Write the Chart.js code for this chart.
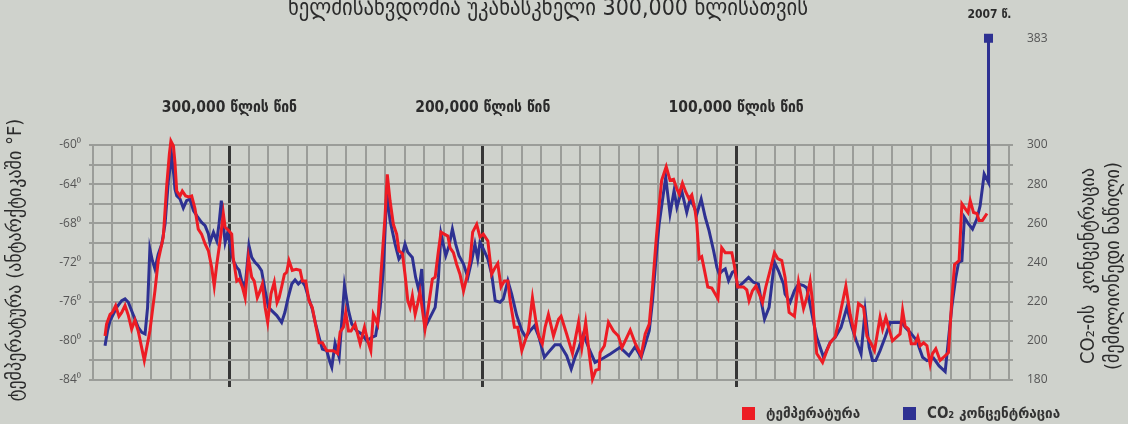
<!DOCTYPE html>
<html>
<head>
<meta charset="utf-8">
<script src="https://cdn.jsdelivr.net/npm/chart.js@4.4.1/dist/chart.umd.min.js"></script>
<style>
  html, body { margin: 0; padding: 0; background: #cfd2cc; }
  #wrap { width: 1128px; height: 424px; }
</style>
</head>
<body>
<div id="wrap"><canvas id="klimati"></canvas></div>
<script>
// ათასი წელი დღევანდლამდე (უარყოფითი = წარსული)
const tempYears = [
  -349.1,-348.5,-347.1,-346.2,-344.9,-343.6,-342.5,-341.2,-339.9,-338.6,
  -337.3,-336.0,-333.6,-331.4,-329.4,-328.1,-326.1,-324.8,-323.7,-323.1,
  -322.1,-321.5,-320.8,-319.5,-318.6,-317.3,-316.0,-314.9,-313.6,-312.3,
  -311.0,-309.6,-308.3,-307.0,-306.0,-305.0,-303.7,-302.4,-301.7,-300.4,
  -299.1,-298.5,-297.1,-296.1,-294.9,-293.8,-292.5,-291.2,-290.2,-289.0,
  -287.9,-287.0,-285.9,-284.9,-283.6,-282.3,-281.2,-280.4,-279.4,-278.3,
  -277.4,-276.5,-275.2,-273.7,-272.1,-271.2,-269.9,-268.6,-267.3,-265.5,
  -264.6,-263.3,-261.6,-260.3,
  -259.0,-257.3,-256.3,-255.0,-254.1,-253.0,-252.0,-250.4,-248.4,-246.7,
  -245.4,-244.2,-243.2,-241.5,-240.2,-238.6,-237.7,-236.6,-235.3,-234.0,
  -233.1,-231.7,-230.7,-229.6,-228.7,-227.8,-226.7,-225.7,-224.8,-222.8,
  -221.5,-219.9,-218.8,-217.5,-216.5,-215.2,-213.8,-212.9,-211.6,-210.3,
  -209.0,-207.6,-206.3,-205.0,-204.0,-202.4,-201.1,-199.8,-198.0,-196.5,
  -195.1,-194.1,-192.8,-191.5,-190.1,-189.2,-187.5,-186.2,-184.6,-183.3,
  -182.0,-180.4,-179.1,-177.8,-176.5,-175.4,-174.1,-172.1,-170.1,
  -169.1,-166.9,-164.6,-162.2,-160.9,-159.4,-158.0,-156.7,-155.4,-154.1,
  -153.7,-152.0,-150.4,-148.4,-146.5,-145.1,-143.8,-141.8,-139.9,-137.5,
  -135.9,-134.3,-133.0,-131.7,-130.4,-129.4,-127.6,-126.1,-124.7,-123.4,
  -122.5,-121.2,-119.9,-118.6,-117.5,-116.2,-115.5,-114.6,-113.6,-112.5,
  -111.2,-109.6,-107.2,-105.7,-104.3,-101.7,-100.7,-99.4,-97.1,-95.8,
  -94.9,-93.6,-92.2,-90.9,-89.6,-88.3,-86.6,-84.9,-83.6,-82.0,-80.7,
  -79.1,-77.0,-75.4,-73.4,-72.1,-70.8,-69.9,-68.2,-65.9,-64.2,
  -62.9,-60.9,-59.0,-56.7,-55.0,-53.3,-51.7,-49.7,-48.4,-46.7,
  -45.4,-44.1,-43.2,-42.2,-40.9,-39.6,-38.3,-36.6,-35.3,-34.3,
  -33.3,-32.0,-30.9,-29.3,-28.3,-27.4,-26.0,-24.7,-23.4,-22.5,
  -21.2,-19.5,-18.2,-16.2,-14.9,-13.8,-12.0,-10.9,-9.6,-8.5,
  -7.6,-6.3,-5.0,-4.1,-2.8,-1.0
];
const tempValues = [
  -79.5,-78.3,-77.3,-77.1,-76.4,-77.5,-77.1,-76.4,-77.4,-78.8,
  -77.9,-79.0,-82.0,-79.0,-74.9,-71.8,-69.4,-64.3,-60.9,-59.6,
  -60.1,-61.8,-64.7,-65.2,-64.7,-65.2,-65.3,-65.2,-66.5,-68.6,
  -69.1,-70.1,-70.8,-72.5,-74.4,-72.2,-69.8,-67.0,-68.4,-68.7,
  -69.1,-71.5,-73.9,-73.7,-74.5,-75.6,-71.5,-73.5,-73.9,-75.6,
  -74.9,-74.2,-76.6,-78.1,-75.2,-74.0,-76.1,-75.6,-74.5,-73.2,
  -73.0,-71.8,-72.8,-72.7,-72.8,-73.9,-73.9,-75.9,-76.6,-79.0,
  -80.2,-80.2,-81.0,-81.0,
  -81.0,-81.3,-79.1,-78.6,-77.1,-79.0,-79.0,-78.3,-80.3,-78.6,
  -80.0,-81.0,-77.3,-78.3,-73.2,-67.4,-63.0,-65.7,-68.1,-69.1,
  -70.8,-71.1,-73.2,-75.9,-76.6,-75.4,-77.3,-76.2,-75.0,-78.8,
  -76.6,-73.7,-73.5,-70.8,-68.9,-69.1,-69.3,-70.5,-71.0,-72.2,
  -73.2,-74.9,-73.5,-71.8,-68.9,-68.1,-69.4,-69.1,-69.8,-73.2,
  -72.5,-72.1,-74.5,-73.9,-73.9,-75.9,-78.6,-78.6,-81.0,-80.0,
  -79.0,-75.6,-77.9,-79.6,-80.3,-78.6,-77.3,-79.5,-77.8,
  -77.5,-79.3,-81.3,-78.1,-80.7,-78.1,-81.3,-83.9,-83.0,-82.9,
  -81.2,-80.5,-78.1,-79.0,-79.5,-80.7,-80.0,-78.9,-80.2,-81.5,
  -79.3,-78.3,-74.5,-70.1,-66.2,-63.6,-62.2,-63.6,-63.5,-64.5,
  -65.0,-63.9,-64.8,-65.5,-65.1,-66.7,-68.1,-71.6,-71.4,-72.8,
  -74.5,-74.6,-75.7,-70.5,-71.0,-71.0,-72.3,-74.5,-74.5,-74.8,
  -75.9,-74.9,-74.4,-75.2,-76.1,-74.5,-72.8,-71.0,-71.6,-71.8,-73.5,
  -77.1,-77.5,-74.0,-76.7,-75.6,-73.9,-75.9,-81.3,-82.2,-81.0,
  -80.2,-79.6,-77.3,-74.4,-77.3,-79.3,-76.2,-76.6,-79.5,-80.3,
  -81.0,-79.0,-77.6,-78.8,-77.6,-78.8,-80.0,-79.6,-79.3,-76.9,
  -78.5,-78.8,-80.3,-80.3,-79.6,-80.5,-80.2,-80.5,-82.4,-81.3,
  -80.8,-82.0,-81.7,-81.2,-75.9,-72.2,-71.8,-66.0,-66.5,-66.9,
  -65.7,-66.9,-67.0,-67.7,-67.7,-67.0
];

const co2Years = [
  -349.1,-348.1,-347.1,-345.8,-344.5,-342.5,-341.2,-339.9,-338.6,-337.3,
  -336.0,-334.6,-333.3,-332.3,-331.4,-330.4,-329.4,-328.1,-326.7,-325.4,
  -324.1,-322.8,-322.0,-321.5,-320.8,-319.5,-318.2,-316.9,-315.6,-314.2,
  -312.5,-311.0,-309.6,-308.3,-307.7,-306.3,-305.0,-304.1,-303.2,-302.3,
  -301.7,-300.7,-299.8,-298.5,-297.1,-296.2,-295.2,-293.8,-292.3,-291.2,
  -289.9,-288.6,-287.3,-285.9,-284.6,-283.3,-281.3,-279.4,-278.1,-276.8,
  -275.4,-274.1,-272.8,-271.5,-270.2,-268.6,-267.3,-266.0,-264.6,-263.3,
  -261.6,-260.3,
  -259.6,-258.3,-256.7,-254.6,-253.0,-251.7,-249.8,-247.8,-245.8,-243.8,
  -242.3,-240.5,-239.2,-237.9,-236.6,-234.6,-233.1,-231.7,-230.7,-229.6,
  -227.8,-226.5,-225.2,-224.1,-222.8,-220.8,-218.8,-217.5,-216.5,-214.6,
  -213.3,-212.0,-210.7,-209.4,-207.6,-205.9,-204.4,-203.1,-202.0,-201.1,
  -199.8,-198.0,-196.5,-195.1,-193.2,-191.9,-190.1,-188.6,-186.6,-184.6,
  -183.0,-181.3,-179.6,-177.8,-175.7,-174.1,-171.5,-169.5,
  -166.9,-165.1,-163.6,-162.0,-160.3,-158.3,-155.7,-153.0,-149.7,-145.8,
  -142.3,-139.9,-137.5,-135.9,-134.3,-133.0,-131.7,-130.4,-129.1,-127.8,
  -126.1,-124.5,-123.4,-121.5,-119.5,-118.2,-116.8,-115.5,-113.8,-112.2,
  -110.7,-108.9,-107.6,-106.7,-105.4,-104.3,-103.0,-101.5,-100.4,-99.4,
  -97.1,-95.1,-93.2,-91.2,-89.9,-88.8,-87.0,-84.9,-83.3,-81.3,
  -80.7,-78.7,-77.0,-75.4,-73.4,-72.1,-70.1,-68.2,-65.5,-62.9,
  -60.9,-58.6,-56.3,-54.3,-52.6,-50.7,-49.1,-47.5,-46.2,-44.9,
  -43.2,-41.2,-39.2,-36.6,-34.6,-33.3,-31.3,-28.7,-26.4,-24.7,
  -22.1,-19.9,-17.5,-14.9,-13.3,-12.2,-10.9,-9.9,-8.3,-6.7,
  -5.0,-3.7,-2.1,-0.4,-0.4
];
const co2Values = [
  197.5,205.2,210.3,213.7,217.1,220.5,221.4,219.7,215.4,211.1,
  206.9,204.3,203.5,217.1,246.9,240.9,236.7,244.3,249.4,259.7,
  281.8,294.6,285.2,277.5,274.1,272.4,267.8,271.6,272.4,266.5,
  263.1,260.5,258.8,254.6,250.3,255.4,251.1,259.7,271.6,258.0,
  250.3,255.4,249.4,240.9,237.5,236.2,230.7,227.3,248.6,242.6,
  240.1,238.4,235.8,225.6,217.1,215.4,212.9,209.4,214.6,222.2,
  229.0,231.1,229.0,230.7,228.2,221.4,216.3,208.6,201.8,195.8,
  195.0,189.0,
  186.5,198.7,191.6,228.2,215.4,208.6,205.2,203.5,200.1,201.8,
  202.6,217.1,237.5,275.8,261.4,249.4,241.8,244.3,249.4,245.2,
  242.6,232.4,225.6,236.7,206.9,212.0,217.1,232.4,254.6,243.5,
  248.6,257.1,249.4,243.5,239.2,232.4,240.9,249.4,241.8,250.3,
  246.9,241.8,234.1,220.5,219.7,221.4,230.7,223.9,212.9,205.2,
  201.8,205.2,207.7,201.8,191.6,194.1,198.0,198.0,
  192.4,185.6,191.6,196.7,203.5,196.7,189.0,190.7,193.3,196.7,
  192.4,197.0,191.6,198.4,205.2,220.5,240.9,259.7,271.6,283.5,
  264.8,276.7,268.2,276.7,265.6,272.4,269.0,264.8,272.4,263.1,
  256.3,246.0,237.5,234.1,235.8,236.7,230.7,235.0,235.8,227.3,
  229.9,232.4,229.9,229.0,218.8,211.1,217.1,240.1,235.8,229.0,
  223.9,219.7,225.6,229.0,228.2,227.0,213.7,201.8,191.6,199.2,
  201.8,206.9,217.1,206.9,200.1,193.3,215.4,196.7,189.9,189.9,
  195.0,201.8,209.4,209.4,209.4,206.9,204.3,200.1,191.6,189.9,
  191.2,187.2,184.3,217.1,232.4,240.1,240.9,263.1,259.7,257.1,
  262.2,269.0,285.2,280.9,383
];

// ღერძების ნიშნულები
const tempTicks = [-60, -64, -68, -72, -76, -80, -84];
const co2Ticks = [180, 200, 220, 240, 260, 280, 300, 383];
const eraYears = [-300, -200, -100];
const eraLabels = ["300,000 წლის წინ", "200,000 წლის წინ", "100,000 წლის წინ"];
const mainTitle = "ხელმისაწვდომია უკანასკნელი 300,000 წლისათვის";
const lastLabel = "2007 წ.";

const gridGray = "#9b9d99";
const darkLine = "#363636";
const red = "#ed1c24";
const blue = "#2e3192";
const step = 100 / 13; // ბადის ერთი უჯრა (ათასი წელი)

// 300-ის ზემოთ ღერძი შეკუმშულია (გაწყვეტილი ღერძი)
const ABOVE_PX = 1.286;
class BrokenLinearScale extends Chart.LinearScale {
  getPixelForValue(value) {
    if (value > this.max) return this.top - (value - this.max) * ABOVE_PX;
    return super.getPixelForValue(value);
  }
}
BrokenLinearScale.id = "brokenLinear";
BrokenLinearScale.defaults = Chart.LinearScale.defaults;
Chart.register(BrokenLinearScale);

const isEra = (v) => v < 0 && Math.abs(v / 100 - Math.round(v / 100)) < 1e-6;

const texts = {
  id: "texts",
  afterDraw(chart) {
    const { ctx, scales } = chart;
    const x = scales.x;
    ctx.save();
    ctx.textAlign = "center";
    ctx.textBaseline = "middle";

    // 2007 წლის მარკერი (ჩარტის არის გარეთაა, ამიტომ აქ იხატება)
    const co2Meta = chart.getDatasetMeta(1);
    const last = co2Meta.data[co2Meta.data.length - 1];
    ctx.fillStyle = blue;
    ctx.fillRect(last.x - 4.5, last.y - 4.5, 9, 9);

    ctx.fillStyle = "#2b2b2b";
    ctx.font = '23px "DejaVu Sans Condensed"';
    ctx.fillText(mainTitle, 548, 9);

    ctx.font = 'bold 15.5px "DejaVu Sans Condensed"';
    eraYears.forEach((yr, i) => {
      ctx.fillText(eraLabels[i], x.getPixelForValue(yr), 108);
    });

    ctx.font = 'bold 12px "DejaVu Sans Condensed"';
    ctx.fillText(lastLabel, x.getPixelForValue(0), 15);

    // ღერძების სათაურები
    ctx.font = '20px "DejaVu Sans Condensed"';
    ctx.save();
    ctx.translate(16, 260);
    ctx.rotate(-Math.PI / 2);
    ctx.fillText("ტემპერატურა (ანტარქტიკაში °F)", 0, 0);
    ctx.restore();

    ctx.save();
    ctx.translate(1089, 266);
    ctx.rotate(-Math.PI / 2);
    ctx.fillText("CO₂-ის  კონცენტრაცია", 0, 0);
    ctx.fillText("(მემილიონედი ნაწილი)", 0, 25);
    ctx.restore();

    // ლეგენდა
    ctx.textAlign = "left";
    ctx.font = 'bold 15px "DejaVu Sans Condensed"';
    const legendX = [742, 903];
    chart.data.datasets.forEach((ds, i) => {
      ctx.fillStyle = ds.borderColor;
      ctx.fillRect(legendX[i], 407, 13, 13);
      ctx.fillStyle = "#333";
      ctx.fillText(ds.label, legendX[i] + 24, 414);
    });
    ctx.restore();
  }
};

new Chart(document.getElementById("klimati"), {
  type: "line",
  data: {
    datasets: [
      {
        label: "ტემპერატურა",
        data: tempYears.map((yr, i) => ({ x: yr, y: tempValues[i] })),
        borderColor: red,
        backgroundColor: red,
        borderWidth: 3,
        pointRadius: 0,
        tension: 0,
        clip: false,
        yAxisID: "y",
      },
      {
        label: "CO₂ კონცენტრაცია",
        data: co2Years.map((yr, i) => ({ x: yr, y: co2Values[i] })),
        borderColor: blue,
        backgroundColor: blue,
        borderWidth: 3,
        pointRadius: 0,
        tension: 0,
        clip: false,
        yAxisID: "y2",
      },
    ],
  },
  options: {
    responsive: true,
    maintainAspectRatio: false,
    animation: false,
    layout: { padding: { top: 145, bottom: 34, left: 0, right: 0 } },
    plugins: { legend: { display: false }, tooltip: { enabled: false } },
    scales: {
      x: {
        type: "linear",
        min: -46 * step,
        max: step,
        afterBuildTicks: (s) => {
          s.ticks = [];
          for (let k = -46; k <= 1; k++) s.ticks.push({ value: k * step });
        },
        afterFit: (s) => { s.height = 10; },
        ticks: { display: false },
        border: { color: gridGray, width: 2 },
        grid: {
          color: (c) => (isEra(c.tick.value) ? darkLine : gridGray),
          lineWidth: (c) => (isEra(c.tick.value) ? 3 : 2),
          tickColor: (c) => (isEra(c.tick.value) ? darkLine : "transparent"),
          tickWidth: 3,
          tickLength: 7,
        },
      },
      y: {
        position: "left",
        min: -84,
        max: -60,
        afterBuildTicks: (s) => {
          s.ticks = [];
          for (let v = -84; v <= -60; v += 2) s.ticks.push({ value: v });
        },
        afterFit: (s) => { s.width = 93; },
        ticks: {
          autoSkip: false,
          padding: 8,
          color: "#555",
          font: { family: "Open Sans", size: 12 },
          callback: (v) => (tempTicks.includes(v) ? v + "⁰" : ""),
        },
        border: { color: gridGray, width: 2 },
        grid: { color: gridGray, lineWidth: 2, tickLength: 4 },
      },
      y2: {
        type: "brokenLinear",
        position: "right",
        min: 180,
        max: 300,
        afterBuildTicks: (s) => {
          s.ticks = [];
          for (let v = 180; v <= 300; v += 10) s.ticks.push({ value: v });
          s.ticks.push({ value: co2Ticks[co2Ticks.length - 1] });
        },
        afterFit: (s) => { s.width = 119; },
        ticks: {
          autoSkip: false,
          padding: 14,
          color: "#555",
          font: { family: "Open Sans", size: 12 },
          callback: (v) => (co2Ticks.includes(v) ? String(v) : ""),
        },
        border: { display: false },
        grid: {
          drawOnChartArea: false,
          color: (c) => (c.tick && c.tick.value > 300 ? "transparent" : gridGray),
          lineWidth: 2,
          tickLength: 4,
        },
      },
    },
  },
  plugins: [texts],
});
</script>
</body>
</html>
